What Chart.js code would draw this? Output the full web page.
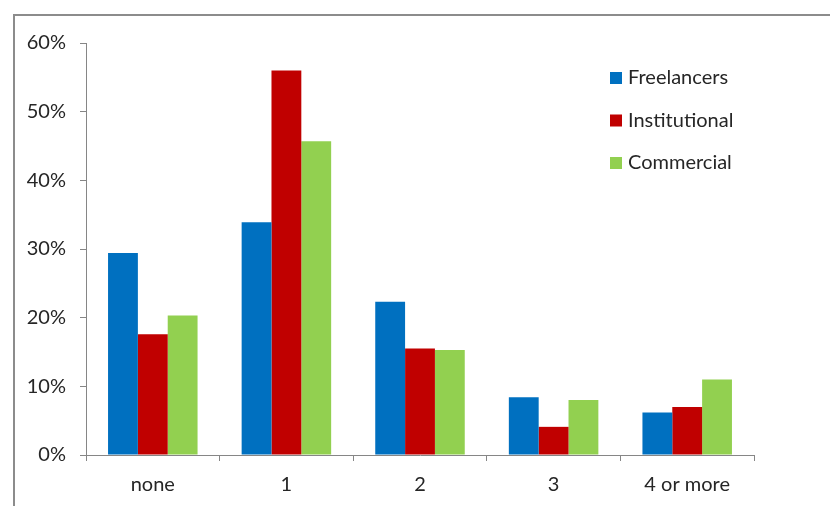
<!DOCTYPE html>
<html>
<head>
<meta charset="utf-8">
<script src="https://cdn.jsdelivr.net/npm/chart.js@4/dist/chart.umd.min.js"></script>
<style>
  html, body { margin: 0; padding: 0; background: #fff; }
  #wrap { position: relative; width: 830px; height: 506px; }
  #frame { position: absolute; left: 13px; top: 14px; right: 0; bottom: 0;
           border-top: 2px solid #8c8c8c; border-left: 2px solid #8c8c8c; }
  canvas { position: absolute; left: 0; top: 0; }
</style>
</head>
<body>
<div id="wrap">
  <div id="frame"></div>
  <canvas id="c" width="830" height="506"></canvas>
</div>
<script>
// Number of outsourced tasks, share of respondents by organisation type
const categories = ['none', '1', '2', '3', '4 or more'];
const freelancers = [29.4, 33.9, 22.3, 8.4, 6.2];
const institutional = [17.6, 56.0, 15.5, 4.1, 7.0];
const commercial = [20.3, 45.7, 15.3, 8.0, 11.0];
const yTicks = [0, 10, 20, 30, 40, 50, 60];

const FONT = 'Lato, "Open Sans", sans-serif';
const AXIS = '#868686';
const SIZE = 20;

// Legend drawn inside the plot, upper right
const innerLegend = {
  id: 'innerLegend',
  afterDraw(chart) {
    const ctx = chart.ctx;
    ctx.save();
    ctx.font = SIZE + 'px ' + FONT;
    ctx.textBaseline = 'middle';
    ctx.textAlign = 'left';
    chart.data.datasets.forEach((ds, i) => {
      const y = 78 + i * 42.5;
      ctx.fillStyle = ds.backgroundColor;
      ctx.fillRect(610, y - 6, 12, 12);
      ctx.fillStyle = '#262626';
      ctx.fillText(ds.label, 628, y);
    });
    ctx.restore();
  }
};

new Chart(document.getElementById('c'), {
  type: 'bar',
  data: {
    labels: categories,
    datasets: [
      { label: 'Freelancers', data: freelancers, backgroundColor: '#0070C0' },
      { label: 'Institutional', data: institutional, backgroundColor: '#C00000' },
      { label: 'Commercial', data: commercial, backgroundColor: '#92D050' }
    ]
  },
  options: {
    responsive: false,
    animation: false,
    events: [],
    layout: { padding: { top: 43, right: 76, left: 0, bottom: 0 } },
    datasets: { bar: { categoryPercentage: 0.67, barPercentage: 1.0 } },
    plugins: { legend: { display: false }, tooltip: { enabled: false } },
    scales: {
      x: {
        afterFit(s) { s.height = 51; },
        grid: { drawOnChartArea: false, drawTicks: true, tickLength: 6, color: AXIS, offset: true },
        border: { color: AXIS, width: 1 },
        ticks: { font: { family: FONT, size: SIZE }, color: '#262626', padding: 12 }
      },
      y: {
        min: 0, max: 60,
        afterFit(s) { s.width = 86; },
        afterBuildTicks(s) { s.ticks = yTicks.map(v => ({ value: v })); },
        grid: { drawOnChartArea: false, drawTicks: true, tickLength: 6, color: AXIS },
        border: { color: AXIS, width: 1 },
        ticks: {
          font: { family: FONT, size: SIZE }, color: '#262626', padding: 14,
          callback: v => v + '%'
        }
      }
    }
  },
  plugins: [innerLegend]
});
</script>
</body>
</html>
